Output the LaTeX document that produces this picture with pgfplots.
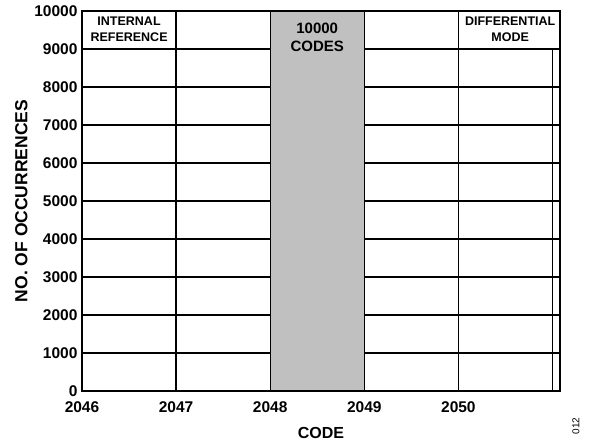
\documentclass[border=0pt]{standalone}
\usepackage{fontspec}
\setmainfont{Liberation Sans}
\usepackage{pgfplots}
\pgfplotsset{compat=1.18}

\begin{document}
\begin{tikzpicture}[x=1pt,y=1pt]
\useasboundingbox (-82,-53) rectangle (509,380+11);
\begin{axis}[
    at={(0,0)}, anchor=south west,
    scale only axis,
    width=478pt, height=380pt,
    xmin=2046, xmax=2051.08,
    ymin=0, ymax=10000,
    xtick={2046,2047,2048,2049,2050},
    ytick={0,1000,...,10000},
    scaled ticks=false,
    grid=major,
    major grid style={black, line width=1.2pt},
    axis line style={black, line width=2pt},
    tick style={draw=none},
    /pgf/number format/assume math mode=true,
    /pgf/number format/set thousands separator={},
    ticklabel style={font=\bfseries\fontsize{15.5}{16}\selectfont},
    yticklabel style={xshift=-1pt},
    xticklabel style={yshift=-7pt},
    xlabel={CODE},
    ylabel={NO. OF OCCURRENCES},
    xlabel style={font=\bfseries\fontsize{16}{17}\selectfont, yshift=-8pt},
    ylabel style={font=\bfseries\fontsize{17.5}{18}\selectfont, yshift=0pt},
    clip=false,
]
% the single code bin
\addplot[ybar interval, fill={rgb,255:red,192;green,192;blue,192}, draw=black, line width=1.2pt]
    coordinates {(2048,10000) (2049,10000)};
\draw[black, line width=1.2pt] (axis cs:2051,0) -- (axis cs:2051,9000);
\node[align=center, font=\bfseries\fontsize{12.5}{16}\selectfont, anchor=north, inner sep=0pt] at (axis cs:2046.5,9850) {INTERNAL\\REFERENCE};
\node[align=center, font=\bfseries\fontsize{15}{18}\selectfont, anchor=north, inner sep=0pt] at (axis cs:2048.5,9680) {10000\\CODES};
\node[align=center, font=\bfseries\fontsize{12.5}{16}\selectfont, anchor=north, inner sep=0pt] at (axis cs:2050.55,9850) {DIFFERENTIAL\\MODE};
\draw[black, line width=2pt] (rel axis cs:0,0) rectangle (rel axis cs:1,1);
\end{axis}
\node[rotate=90, font=\fontsize{10}{12}\selectfont] at (494,-35) {012};
\end{tikzpicture}
\end{document}
